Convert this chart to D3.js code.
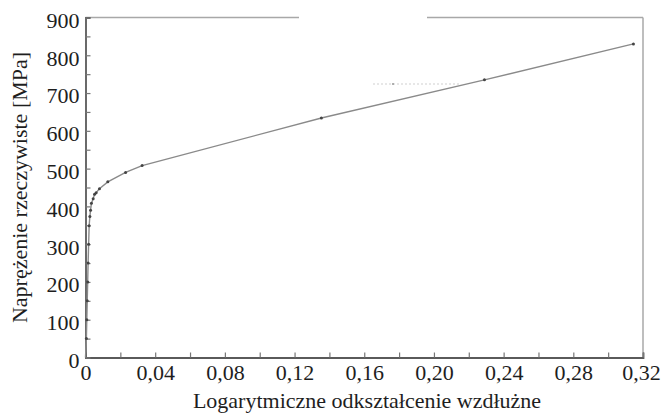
<!DOCTYPE html>
<html><head><meta charset="utf-8">
<script src="https://cdn.jsdelivr.net/npm/d3@7"></script>
</head>
<body style="margin:0">
<svg id="chart" width="661" height="415" style="display:block">
<text x="367" y="408" font-size="22" font-family="Liberation Serif" text-anchor="middle" fill="#1e1e1e">Logarytmiczne odkształcenie wzdłużne</text>
<text transform="translate(27,187.5) rotate(-90)" font-size="22" font-family="Liberation Serif" text-anchor="middle" fill="#1e1e1e">Naprężenie rzeczywiste [MPa]</text>
</svg>
<script>
// True stress vs. logarithmic (true) strain curve
const strain = [0, 0.0005, 0.00075, 0.001, 0.00125, 0.0015, 0.0018, 0.0021, 0.0025, 0.0029,
                0.0034, 0.0044, 0.0052, 0.0061, 0.008, 0.0128, 0.023, 0.0325, 0.1354, 0.229, 0.3145];
const stress = [0, 50, 100, 150, 200, 250, 300, 349, 373, 390,
                408, 420, 432, 436, 447, 465, 490, 508, 634, 735, 830];

const xTicks = [0, 0.02, 0.04, 0.06, 0.08, 0.10, 0.12, 0.14, 0.16, 0.18, 0.20, 0.22, 0.24, 0.26, 0.28, 0.30, 0.32];
const xLabelled = [0, 0.04, 0.08, 0.12, 0.16, 0.20, 0.24, 0.28, 0.32];
const yTicks = [0, 50, 100, 150, 200, 250, 300, 350, 400, 450, 500, 550, 600, 650, 700, 750, 800, 850, 900];
const yLabelled = [0, 100, 200, 300, 400, 500, 600, 700, 800, 900];

const points = strain.map((s, i) => ({ e: s, s: stress[i] }));

const svg = d3.select("#chart");
const plotL = 85.5, plotR = 643, plotT = 17.5, plotB = 357.5;

const x = d3.scaleLinear().domain([0, 0.32]).range([plotL, plotR]);
const y = d3.scaleLinear().domain([0, 900]).range([plotB, plotT]);

const pl = d3.formatLocale({ decimal: ",", thousands: " ", grouping: [3], currency: ["", " zł"] });
const fmtX = pl.format(".2f");

// frame: top and right edges (top edge is interrupted in the middle)
const frame = svg.append("g").attr("stroke", "#a8a8a8").attr("stroke-width", 1.5).attr("fill", "none");
frame.append("line").attr("x1", plotL).attr("x2", 299).attr("y1", plotT).attr("y2", plotT);
frame.append("line").attr("x1", 427).attr("x2", plotR).attr("y1", plotT).attr("y2", plotT);
frame.append("line").attr("x1", plotR).attr("x2", plotR).attr("y1", plotT).attr("y2", plotB);

// faint legend remnant
svg.append("line")
  .attr("x1", 373).attr("x2", 460).attr("y1", 84).attr("y2", 84)
  .attr("stroke", "#cfcfcf").attr("stroke-width", 1).attr("stroke-dasharray", "2,2");
svg.append("circle").attr("cx", 393).attr("cy", 84).attr("r", 1).attr("fill", "#999");

// axes with inward ticks
const xAxis = d3.axisBottom(x)
  .tickValues(xTicks)
  .tickSize(-5)
  .tickPadding(7)
  .tickFormat(d => xLabelled.some(v => Math.abs(v - d) < 1e-9) ? (d === 0 ? "0" : fmtX(d)) : "");
const yAxis = d3.axisLeft(y)
  .tickValues(yTicks)
  .tickSize(-5)
  .tickPadding(6)
  .tickFormat(d => yLabelled.includes(d) ? d : "");

const gx = svg.append("g").attr("transform", `translate(0,${plotB})`).call(xAxis);
const gy = svg.append("g").attr("transform", `translate(${plotL},0)`).call(yAxis);

[gx, gy].forEach(g => {
  g.attr("font-family", "serif").attr("font-size", 22);
  g.select(".domain").attr("stroke", "#5a5a5a").attr("stroke-width", 1.8);
  g.selectAll(".tick line").attr("stroke", "#777").attr("stroke-width", 1.2);
  g.selectAll(".tick text").attr("fill", "#1e1e1e").attr("font-family", "serif").attr("font-size", 22);
});
gy.selectAll(".tick text").attr("dy", "0.45em");
// keep the last x label inside the page
gx.selectAll(".tick text").filter(d => d === 0.32).attr("dx", "-2");

// curve
const line = d3.line().x(d => x(d.e)).y(d => y(d.s));
svg.append("path")
  .datum(points)
  .attr("fill", "none")
  .attr("stroke", "#8a8a8a")
  .attr("stroke-width", 1.4)
  .attr("d", line);

svg.append("g").selectAll("circle")
  .data(points.slice(1))
  .join("circle")
  .attr("cx", d => x(d.e))
  .attr("cy", d => y(d.s))
  .attr("r", 1.5)
  .attr("fill", "#444");
</script>
</body></html>
